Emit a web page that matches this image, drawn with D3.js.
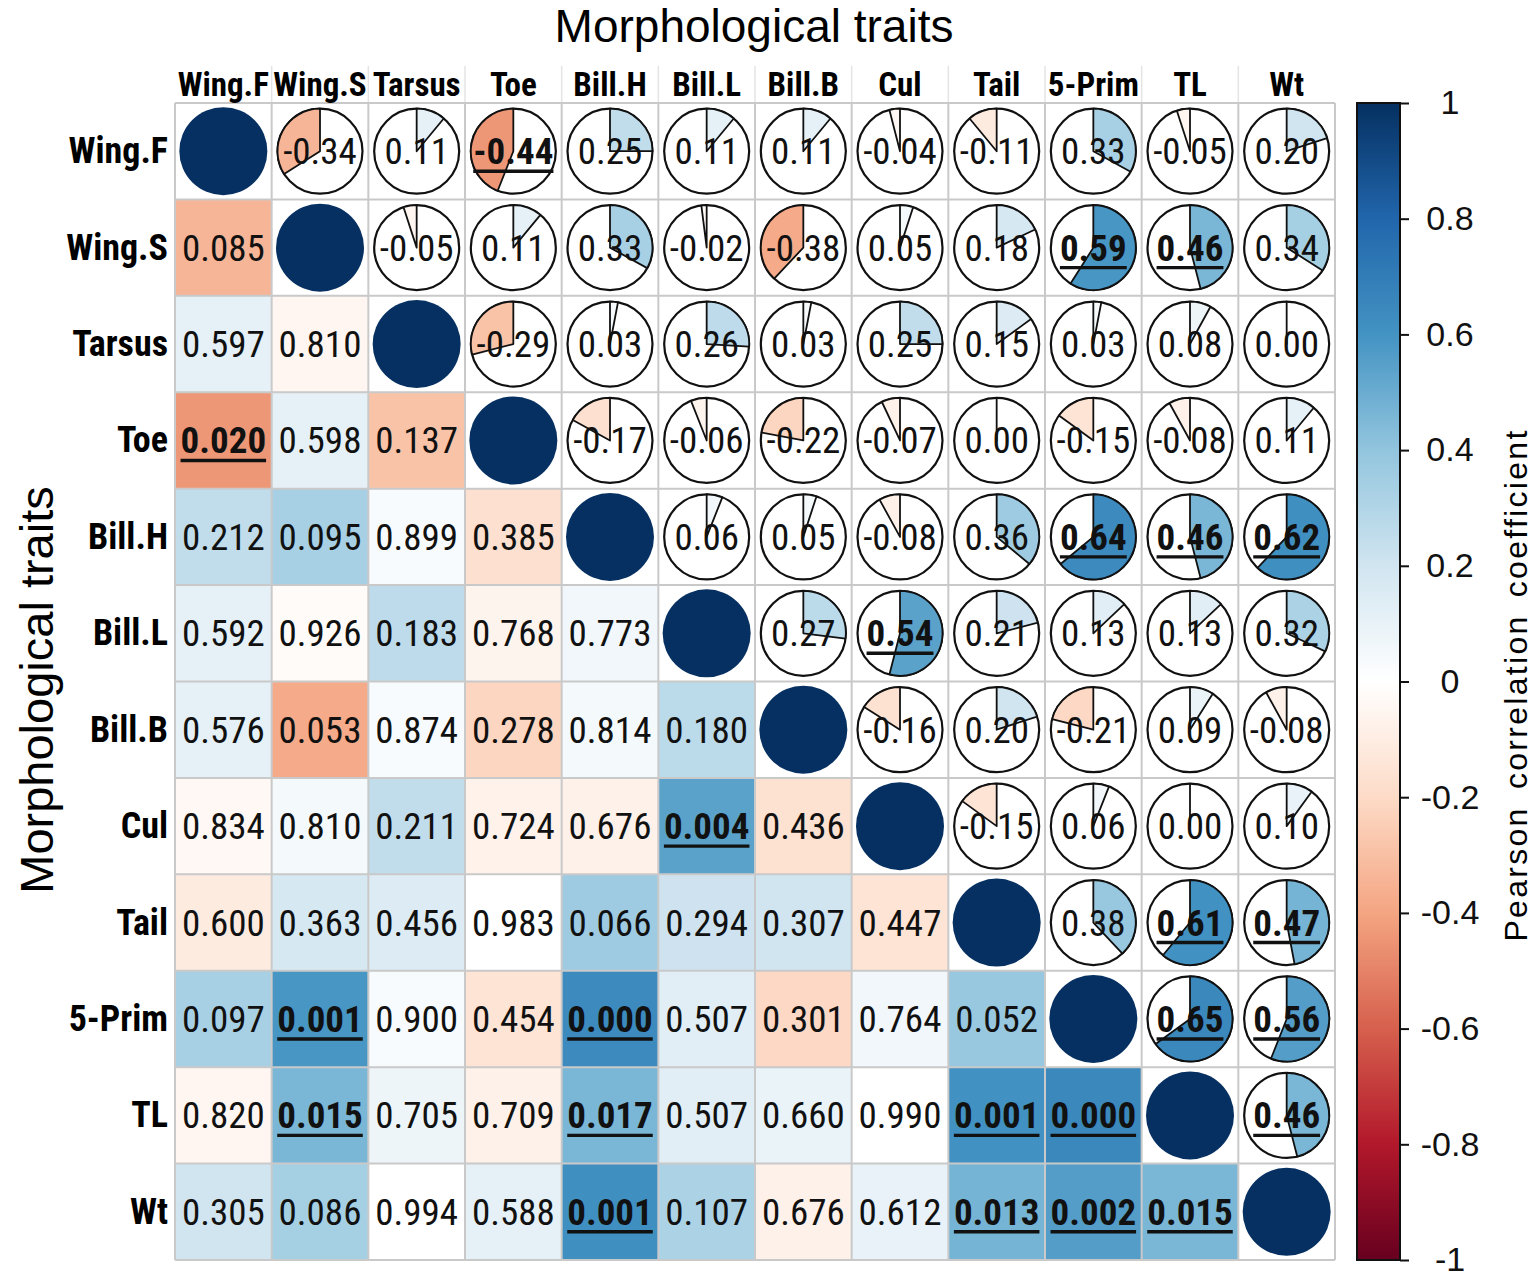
<!DOCTYPE html>
<html>
<head>
<meta charset="utf-8">
<script src="https://cdn.jsdelivr.net/npm/d3@7"></script>
<style>
  body { margin: 0; background: #fff; }
  svg { display: block; }
</style>
</head>
<body>
<svg id="chart" width="1534" height="1278"></svg>
<script>
// traits, same order for rows and columns
const traits = ["Wing.F", "Wing.S", "Tarsus", "Toe", "Bill.H", "Bill.L", "Bill.B", "Cul", "Tail", "5-Prim", "TL", "Wt"];

// upper triangle: Pearson r, row i -> columns i+1..11
const rUpper = [
  [-0.34, 0.11, -0.44, 0.25, 0.11, 0.11, -0.04, -0.11, 0.33, -0.05, 0.20],
  [-0.05, 0.11, 0.33, -0.02, -0.38, 0.05, 0.18, 0.59, 0.46, 0.34],
  [-0.29, 0.03, 0.26, 0.03, 0.25, 0.15, 0.03, 0.08, 0.00],
  [-0.17, -0.06, -0.22, -0.07, 0.00, -0.15, -0.08, 0.11],
  [0.06, 0.05, -0.08, 0.36, 0.64, 0.46, 0.62],
  [0.27, 0.54, 0.21, 0.13, 0.13, 0.32],
  [-0.16, 0.20, -0.21, 0.09, -0.08],
  [-0.15, 0.06, 0.00, 0.10],
  [0.38, 0.61, 0.47],
  [0.65, 0.56],
  [0.46],
  []
];

// lower triangle: p-values, row i -> columns 0..i-1
const pLower = [
  [],
  [0.085],
  [0.597, 0.810],
  [0.020, 0.598, 0.137],
  [0.212, 0.095, 0.899, 0.385],
  [0.592, 0.926, 0.183, 0.768, 0.773],
  [0.576, 0.053, 0.874, 0.278, 0.814, 0.180],
  [0.834, 0.810, 0.211, 0.724, 0.676, 0.004, 0.436],
  [0.600, 0.363, 0.456, 0.983, 0.066, 0.294, 0.307, 0.447],
  [0.097, 0.001, 0.900, 0.454, 0.000, 0.507, 0.301, 0.764, 0.052],
  [0.820, 0.015, 0.705, 0.709, 0.017, 0.507, 0.660, 0.990, 0.001, 0.000],
  [0.305, 0.086, 0.994, 0.588, 0.001, 0.107, 0.676, 0.612, 0.013, 0.002, 0.015]
];

const legendTicks = [1, 0.8, 0.6, 0.4, 0.2, 0, -0.2, -0.4, -0.6, -0.8, -1];
const rdbu = ["#67001F", "#B2182B", "#D6604D", "#F4A582", "#FDDBC7", "#FFFFFF",
              "#D1E5F0", "#92C5DE", "#4393C3", "#2166AC", "#053061"];

const narrow = "'Liberation Sans Narrow', 'Arial Narrow', 'Roboto Condensed', sans-serif";
const plain = "'Liberation Sans', Arial, sans-serif";

const svg = d3.select("#chart");
const gridLeft = 175, gridTop = 103, gridW = 1160, gridH = 1157;

const x = d3.scaleBand().domain(traits).range([gridLeft, gridLeft + gridW]);
const y = d3.scaleBand().domain(traits).range([gridTop, gridTop + gridH]);
const color = d3.scaleLinear()
  .domain(d3.range(11).map(i => -1 + i * 0.2))
  .range(rdbu);

// rebuild cell list
const rAt = (i, j) => i < j ? rUpper[i][j - i - 1] : rUpper[j][i - j - 1];
const cells = [];
traits.forEach((a, i) => traits.forEach((b, j) => {
  if (i === j) cells.push({ i, j, kind: "diag" });
  else if (j > i) cells.push({ i, j, kind: "pie", r: rAt(i, j), sig: pLower[j][i] < 0.05 });
  else cells.push({ i, j, kind: "sq", r: rAt(i, j), p: pLower[i][j], sig: pLower[i][j] < 0.05 });
}));

const cx = d => x(traits[d.j]) + x.bandwidth() / 2;
const cy = d => y(traits[d.i]) + y.bandwidth() / 2;

// header separators
svg.append("g").selectAll("line")
  .data(traits.slice(1))
  .enter().append("line")
  .attr("x1", d => x(d)).attr("x2", d => x(d))
  .attr("y1", 66).attr("y2", gridTop)
  .attr("stroke", "#e4e4e4").attr("stroke-width", 1.5);

// lower squares
svg.append("g").selectAll("rect")
  .data(cells.filter(d => d.kind === "sq"))
  .enter().append("rect")
  .attr("x", d => x(traits[d.j]))
  .attr("y", d => y(traits[d.i]))
  .attr("width", x.bandwidth())
  .attr("height", y.bandwidth())
  .attr("fill", d => color(d.r));

// grid
const grid = svg.append("g").attr("stroke", "#c9c9c9").attr("stroke-width", 2);
d3.range(13).forEach(k => {
  const gx = gridLeft + k * x.bandwidth();
  const gy = gridTop + k * y.bandwidth();
  grid.append("line").attr("x1", gx).attr("x2", gx).attr("y1", gridTop).attr("y2", gridTop + gridH);
  grid.append("line").attr("x1", gridLeft).attr("x2", gridLeft + gridW).attr("y1", gy).attr("y2", gy);
});

// diagonal
svg.append("g").selectAll("circle")
  .data(cells.filter(d => d.kind === "diag"))
  .enter().append("circle")
  .attr("cx", cx).attr("cy", cy).attr("r", 44)
  .attr("fill", "#053061");

// pies
const rad = 42.5;
const arc = d3.arc().innerRadius(0).outerRadius(rad).startAngle(0);
const pies = svg.append("g").selectAll("g")
  .data(cells.filter(d => d.kind === "pie"))
  .enter().append("g")
  .attr("transform", d => `translate(${cx(d)},${cy(d)})`);
pies.append("circle").attr("r", rad)
  .attr("fill", "#fff").attr("stroke", "#111").attr("stroke-width", 2.2);
pies.append("path")
  .attr("d", d => arc({ endAngle: d.r * 2 * Math.PI }))
  .attr("fill", d => color(d.r))
  .attr("stroke", "#111").attr("stroke-width", 1.8)
  .attr("stroke-linejoin", "round");

// cell labels
const labelled = cells.filter(d => d.kind !== "diag");
const fmt2 = d3.format(".2f"), fmt3 = d3.format(".3f");
const txt = svg.append("g").selectAll("text")
  .data(labelled)
  .enter().append("text")
  .attr("x", cx).attr("y", d => cy(d) + 13)
  .attr("text-anchor", "middle")
  .attr("font-family", narrow)
  .attr("font-size", 37)
  .attr("font-weight", d => d.sig ? "bold" : "normal")
  .attr("fill", "#111")
  .text(d => (d.kind === "pie" ? fmt2(d.r) : fmt3(d.p)).replace("−", "-"));

// underline significant values
txt.filter(d => d.sig).each(function (d) {
  const bb = this.getBBox();
  svg.append("line")
    .attr("x1", bb.x).attr("x2", bb.x + bb.width)
    .attr("y1", cy(d) + 20).attr("y2", cy(d) + 20)
    .attr("stroke", "#111").attr("stroke-width", 3.4);
});

// column labels
svg.append("g").selectAll("text")
  .data(traits)
  .enter().append("text")
  .attr("x", d => x(d) + x.bandwidth() / 2)
  .attr("y", 96)
  .attr("text-anchor", "middle")
  .attr("font-family", narrow).attr("font-weight", "bold")
  .attr("font-size", 33)
  .text(d => d);

// row labels
svg.append("g").selectAll("text")
  .data(traits)
  .enter().append("text")
  .attr("x", 168)
  .attr("y", d => y(d) + y.bandwidth() / 2 + 12)
  .attr("text-anchor", "end")
  .attr("font-family", narrow).attr("font-weight", "bold")
  .attr("font-size", 36)
  .text(d => d);

// titles
svg.append("text")
  .attr("x", 754).attr("y", 42)
  .attr("text-anchor", "middle")
  .attr("font-family", plain).attr("font-size", 46)
  .text("Morphological traits");
svg.append("text")
  .attr("transform", "translate(53,690) rotate(-90)")
  .attr("text-anchor", "middle")
  .attr("font-family", plain).attr("font-size", 47)
  .text("Morphological traits");

// colour legend
const ly = d3.scaleLinear().domain([1, -1]).range([gridTop, gridTop + gridH]);
const defs = svg.append("defs");
const grad = defs.append("linearGradient").attr("id", "cbar")
  .attr("x1", 0).attr("x2", 0).attr("y1", 0).attr("y2", 1);
rdbu.slice().reverse().forEach((c, k) => {
  grad.append("stop").attr("offset", k / 10).attr("stop-color", c);
});
svg.append("rect")
  .attr("x", 1357).attr("y", ly(1))
  .attr("width", 43).attr("height", ly(-1) - ly(1))
  .attr("fill", "url(#cbar)")
  .attr("stroke", "#111").attr("stroke-width", 2);

const laxis = svg.append("g")
  .attr("transform", "translate(1400,0)")
  .call(d3.axisRight(ly).tickValues(legendTicks).tickSize(9).tickFormat(d => String(d)));
laxis.select(".domain").remove();
laxis.selectAll("line").attr("stroke", "#111").attr("stroke-width", 2);
laxis.selectAll("text")
  .attr("x", 50).attr("text-anchor", "middle")
  .attr("font-family", plain).attr("font-size", 34).attr("fill", "#111");

svg.append("text")
  .attr("transform", "translate(1527,685) rotate(-90)")
  .attr("text-anchor", "middle")
  .attr("font-family", plain).attr("font-size", 32)
  .attr("letter-spacing", 2.3)
  .attr("word-spacing", 6)
  .text("Pearson correlation coefficient");
</script>
</body>
</html>
